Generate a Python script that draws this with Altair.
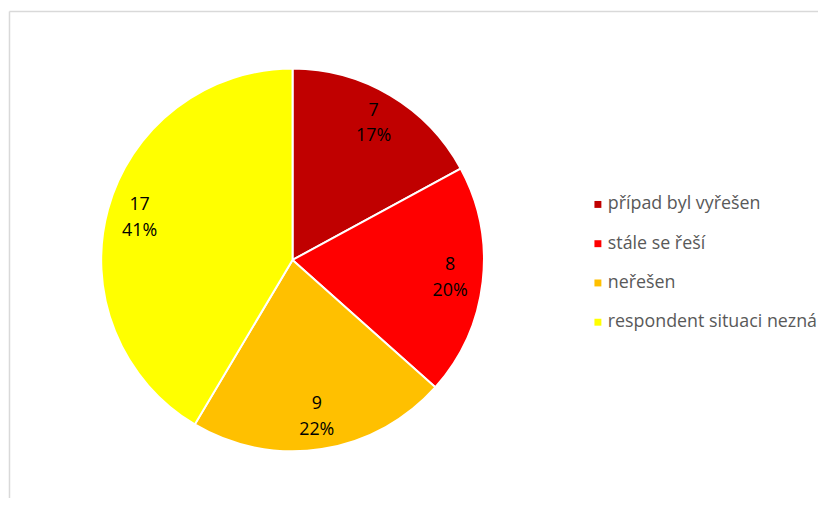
import altair as alt
import pandas as pd

categories = ["případ byl vyřešen", "stále se řeší", "neřešen", "respondent situaci nezná"]
counts = [7, 8, 9, 17]
percent_labels = ["17%", "20%", "22%", "41%"]
colors = ["#C00000", "#FF0000", "#FFC000", "#FFFF00"]

df = pd.DataFrame({
    "kat": categories,
    "n": counts,
    "pct": percent_labels,
    "ord": list(range(len(categories))),
})

W, H = 815, 492
CX, CY = 285, 252
R = 193
LR = 160
FONT = "Open Sans"

color_scale = alt.Scale(domain=categories, range=colors)

base = alt.Chart(df).encode(
    theta=alt.Theta("n:Q", stack=True),
    order=alt.Order("ord:Q"),
)

pie = base.mark_arc(stroke="white", strokeWidth=2).encode(
    color=alt.Color(
        "kat:N",
        scale=color_scale,
        legend=alt.Legend(
            title=None,
            orient="none",
            legendX=584,
            legendY=187,
            symbolType="square",
            symbolSize=49,
            symbolStrokeWidth=0,
            labelFont=FONT,
            labelFontSize=18,
            labelColor="#595959",
            labelOffset=1,
            labelLimit=0,
            rowPadding=21.6,
            padding=0,
        ),
    ),
    x=alt.value(CX),
    y=alt.value(CY),
    radius=alt.value(R),
)

txt_n = base.mark_text(font=FONT, fontSize=18, color="#000000", dy=-13).encode(
    text="n:Q", x=alt.value(CX), y=alt.value(CY), radius=alt.value(LR)
)
txt_p = base.mark_text(font=FONT, fontSize=18, color="#000000", dy=13).encode(
    text="pct:N", x=alt.value(CX), y=alt.value(CY), radius=alt.value(LR)
)

border_df = pd.DataFrame({"a": [0]})
left_line = alt.Chart(border_df).mark_rule(color="#D9D9D9", strokeWidth=1.5).encode(
    x=alt.value(-0.5), y=alt.value(1.5), y2=alt.value(H)
)
top_line = alt.Chart(border_df).mark_rule(color="#D9D9D9", strokeWidth=1.5).encode(
    x=alt.value(-0.5), x2=alt.value(W), y=alt.value(1.5)
)

chart = alt.layer(left_line, top_line, pie, txt_n, txt_p).properties(
    width=W, height=H, padding=0
).configure_view(stroke=None)

chart.save("out.html", embed_options={"renderer": "svg", "actions": False})
